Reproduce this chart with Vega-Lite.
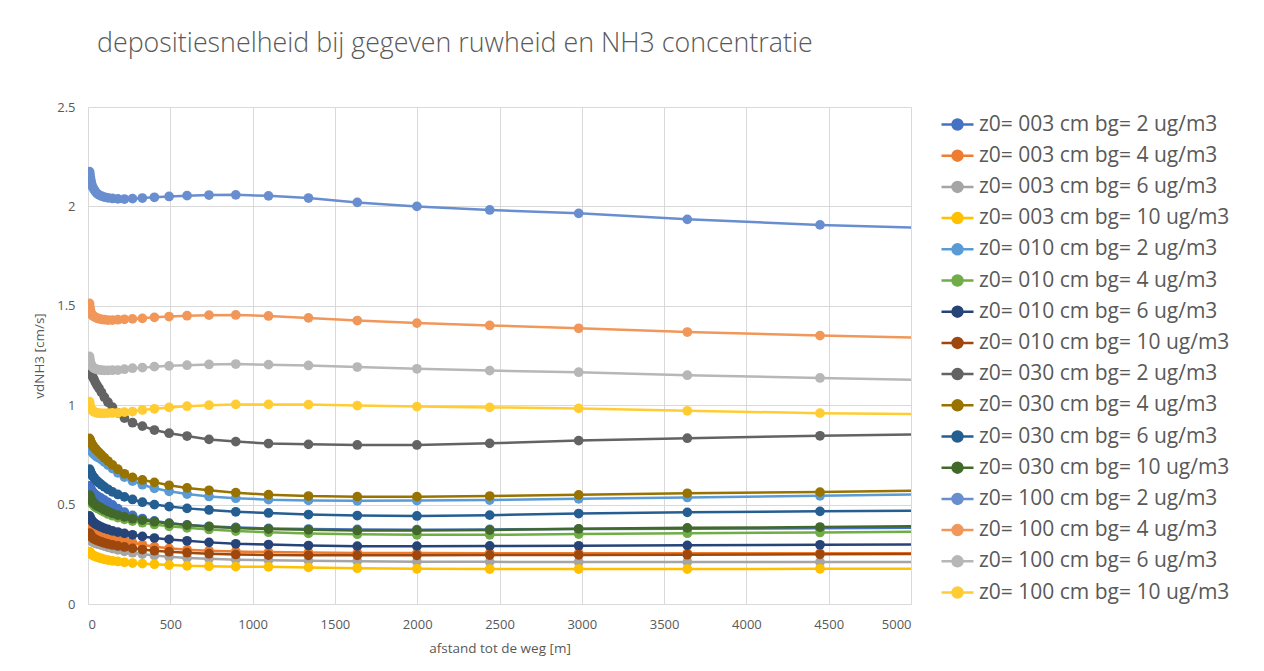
{
"$schema": "https://vega.github.io/schema/vega-lite/v6.json",
"width": 823, "height": 497,
"autosize": {"type": "none"},
"padding": {"left": 88, "top": 107, "right": 353, "bottom": 67},
"background": "white",
"title": {"text": "depositiesnelheid bij gegeven ruwheid en NH3 concentratie", "anchor": "start", "frame": "group", "font": "Open Sans", "fontSize": 26.8, "fontWeight": 300, "color": "#595959", "dx": 9, "offset": 43},
"config": {"view": {"stroke": null}},
"datasets": {
"s1": [{"serie":"z0= 003 cm bg= 2 ug/m3","afstand":9,"vd":0.594},{"serie":"z0= 003 cm bg= 2 ug/m3","afstand":11,"vd":0.589},{"serie":"z0= 003 cm bg= 2 ug/m3","afstand":13.5,"vd":0.584},{"serie":"z0= 003 cm bg= 2 ug/m3","afstand":16.4,"vd":0.579},{"serie":"z0= 003 cm bg= 2 ug/m3","afstand":20.1,"vd":0.574},{"serie":"z0= 003 cm bg= 2 ug/m3","afstand":24.5,"vd":0.568},{"serie":"z0= 003 cm bg= 2 ug/m3","afstand":30,"vd":0.562},{"serie":"z0= 003 cm bg= 2 ug/m3","afstand":36.6,"vd":0.556},{"serie":"z0= 003 cm bg= 2 ug/m3","afstand":44.7,"vd":0.55},{"serie":"z0= 003 cm bg= 2 ug/m3","afstand":54.6,"vd":0.544},{"serie":"z0= 003 cm bg= 2 ug/m3","afstand":66.7,"vd":0.538},{"serie":"z0= 003 cm bg= 2 ug/m3","afstand":81.5,"vd":0.531},{"serie":"z0= 003 cm bg= 2 ug/m3","afstand":99.5,"vd":0.522},{"serie":"z0= 003 cm bg= 2 ug/m3","afstand":121.5,"vd":0.511},{"serie":"z0= 003 cm bg= 2 ug/m3","afstand":148.4,"vd":0.498},{"serie":"z0= 003 cm bg= 2 ug/m3","afstand":181.3,"vd":0.48},{"serie":"z0= 003 cm bg= 2 ug/m3","afstand":221.4,"vd":0.462},{"serie":"z0= 003 cm bg= 2 ug/m3","afstand":270.4,"vd":0.446},{"serie":"z0= 003 cm bg= 2 ug/m3","afstand":330.3,"vd":0.43},{"serie":"z0= 003 cm bg= 2 ug/m3","afstand":403.4,"vd":0.418},{"serie":"z0= 003 cm bg= 2 ug/m3","afstand":492.7,"vd":0.407},{"serie":"z0= 003 cm bg= 2 ug/m3","afstand":601.8,"vd":0.398},{"serie":"z0= 003 cm bg= 2 ug/m3","afstand":735.1,"vd":0.391},{"serie":"z0= 003 cm bg= 2 ug/m3","afstand":897.8,"vd":0.385},{"serie":"z0= 003 cm bg= 2 ug/m3","afstand":1096.6,"vd":0.38},{"serie":"z0= 003 cm bg= 2 ug/m3","afstand":1339.4,"vd":0.377},{"serie":"z0= 003 cm bg= 2 ug/m3","afstand":1636,"vd":0.375},{"serie":"z0= 003 cm bg= 2 ug/m3","afstand":1998.2,"vd":0.374},{"serie":"z0= 003 cm bg= 2 ug/m3","afstand":2440.6,"vd":0.375},{"serie":"z0= 003 cm bg= 2 ug/m3","afstand":2981,"vd":0.377},{"serie":"z0= 003 cm bg= 2 ug/m3","afstand":3641,"vd":0.379},{"serie":"z0= 003 cm bg= 2 ug/m3","afstand":4447.1,"vd":0.381},{"serie":"z0= 003 cm bg= 2 ug/m3","afstand":5431.7,"vd":0.385},
{"serie":"z0= 003 cm bg= 4 ug/m3","afstand":9,"vd":0.406},{"serie":"z0= 003 cm bg= 4 ug/m3","afstand":11,"vd":0.402},{"serie":"z0= 003 cm bg= 4 ug/m3","afstand":13.5,"vd":0.398},{"serie":"z0= 003 cm bg= 4 ug/m3","afstand":16.4,"vd":0.394},{"serie":"z0= 003 cm bg= 4 ug/m3","afstand":20.1,"vd":0.39},{"serie":"z0= 003 cm bg= 4 ug/m3","afstand":24.5,"vd":0.386},{"serie":"z0= 003 cm bg= 4 ug/m3","afstand":30,"vd":0.381},{"serie":"z0= 003 cm bg= 4 ug/m3","afstand":36.6,"vd":0.376},{"serie":"z0= 003 cm bg= 4 ug/m3","afstand":44.7,"vd":0.372},{"serie":"z0= 003 cm bg= 4 ug/m3","afstand":54.6,"vd":0.368},{"serie":"z0= 003 cm bg= 4 ug/m3","afstand":66.7,"vd":0.364},{"serie":"z0= 003 cm bg= 4 ug/m3","afstand":81.5,"vd":0.359},{"serie":"z0= 003 cm bg= 4 ug/m3","afstand":99.5,"vd":0.353},{"serie":"z0= 003 cm bg= 4 ug/m3","afstand":121.5,"vd":0.346},{"serie":"z0= 003 cm bg= 4 ug/m3","afstand":148.4,"vd":0.338},{"serie":"z0= 003 cm bg= 4 ug/m3","afstand":181.3,"vd":0.329},{"serie":"z0= 003 cm bg= 4 ug/m3","afstand":221.4,"vd":0.32},{"serie":"z0= 003 cm bg= 4 ug/m3","afstand":270.4,"vd":0.309},{"serie":"z0= 003 cm bg= 4 ug/m3","afstand":330.3,"vd":0.298},{"serie":"z0= 003 cm bg= 4 ug/m3","afstand":403.4,"vd":0.288},{"serie":"z0= 003 cm bg= 4 ug/m3","afstand":492.7,"vd":0.28},{"serie":"z0= 003 cm bg= 4 ug/m3","afstand":601.8,"vd":0.273},{"serie":"z0= 003 cm bg= 4 ug/m3","afstand":735.1,"vd":0.268},{"serie":"z0= 003 cm bg= 4 ug/m3","afstand":897.8,"vd":0.264},{"serie":"z0= 003 cm bg= 4 ug/m3","afstand":1096.6,"vd":0.261},{"serie":"z0= 003 cm bg= 4 ug/m3","afstand":1339.4,"vd":0.259},{"serie":"z0= 003 cm bg= 4 ug/m3","afstand":1636,"vd":0.257},{"serie":"z0= 003 cm bg= 4 ug/m3","afstand":1998.2,"vd":0.256},{"serie":"z0= 003 cm bg= 4 ug/m3","afstand":2440.6,"vd":0.255},{"serie":"z0= 003 cm bg= 4 ug/m3","afstand":2981,"vd":0.255},{"serie":"z0= 003 cm bg= 4 ug/m3","afstand":3641,"vd":0.255},{"serie":"z0= 003 cm bg= 4 ug/m3","afstand":4447.1,"vd":0.255},{"serie":"z0= 003 cm bg= 4 ug/m3","afstand":5431.7,"vd":0.256},
{"serie":"z0= 003 cm bg= 6 ug/m3","afstand":9,"vd":0.33},{"serie":"z0= 003 cm bg= 6 ug/m3","afstand":11,"vd":0.327},{"serie":"z0= 003 cm bg= 6 ug/m3","afstand":13.5,"vd":0.324},{"serie":"z0= 003 cm bg= 6 ug/m3","afstand":16.4,"vd":0.321},{"serie":"z0= 003 cm bg= 6 ug/m3","afstand":20.1,"vd":0.318},{"serie":"z0= 003 cm bg= 6 ug/m3","afstand":24.5,"vd":0.315},{"serie":"z0= 003 cm bg= 6 ug/m3","afstand":30,"vd":0.312},{"serie":"z0= 003 cm bg= 6 ug/m3","afstand":36.6,"vd":0.309},{"serie":"z0= 003 cm bg= 6 ug/m3","afstand":44.7,"vd":0.306},{"serie":"z0= 003 cm bg= 6 ug/m3","afstand":54.6,"vd":0.303},{"serie":"z0= 003 cm bg= 6 ug/m3","afstand":66.7,"vd":0.3},{"serie":"z0= 003 cm bg= 6 ug/m3","afstand":81.5,"vd":0.296},{"serie":"z0= 003 cm bg= 6 ug/m3","afstand":99.5,"vd":0.291},{"serie":"z0= 003 cm bg= 6 ug/m3","afstand":121.5,"vd":0.285},{"serie":"z0= 003 cm bg= 6 ug/m3","afstand":148.4,"vd":0.279},{"serie":"z0= 003 cm bg= 6 ug/m3","afstand":181.3,"vd":0.272},{"serie":"z0= 003 cm bg= 6 ug/m3","afstand":221.4,"vd":0.265},{"serie":"z0= 003 cm bg= 6 ug/m3","afstand":270.4,"vd":0.258},{"serie":"z0= 003 cm bg= 6 ug/m3","afstand":330.3,"vd":0.251},{"serie":"z0= 003 cm bg= 6 ug/m3","afstand":403.4,"vd":0.244},{"serie":"z0= 003 cm bg= 6 ug/m3","afstand":492.7,"vd":0.238},{"serie":"z0= 003 cm bg= 6 ug/m3","afstand":601.8,"vd":0.232},{"serie":"z0= 003 cm bg= 6 ug/m3","afstand":735.1,"vd":0.227},{"serie":"z0= 003 cm bg= 6 ug/m3","afstand":897.8,"vd":0.223},{"serie":"z0= 003 cm bg= 6 ug/m3","afstand":1096.6,"vd":0.22},{"serie":"z0= 003 cm bg= 6 ug/m3","afstand":1339.4,"vd":0.217},{"serie":"z0= 003 cm bg= 6 ug/m3","afstand":1636,"vd":0.215},{"serie":"z0= 003 cm bg= 6 ug/m3","afstand":1998.2,"vd":0.213},{"serie":"z0= 003 cm bg= 6 ug/m3","afstand":2440.6,"vd":0.212},{"serie":"z0= 003 cm bg= 6 ug/m3","afstand":2981,"vd":0.211},{"serie":"z0= 003 cm bg= 6 ug/m3","afstand":3641,"vd":0.211},{"serie":"z0= 003 cm bg= 6 ug/m3","afstand":4447.1,"vd":0.211},{"serie":"z0= 003 cm bg= 6 ug/m3","afstand":5431.7,"vd":0.211},
{"serie":"z0= 003 cm bg= 10 ug/m3","afstand":9,"vd":0.263},{"serie":"z0= 003 cm bg= 10 ug/m3","afstand":11,"vd":0.26},{"serie":"z0= 003 cm bg= 10 ug/m3","afstand":13.5,"vd":0.257},{"serie":"z0= 003 cm bg= 10 ug/m3","afstand":16.4,"vd":0.254},{"serie":"z0= 003 cm bg= 10 ug/m3","afstand":20.1,"vd":0.251},{"serie":"z0= 003 cm bg= 10 ug/m3","afstand":24.5,"vd":0.248},{"serie":"z0= 003 cm bg= 10 ug/m3","afstand":30,"vd":0.245},{"serie":"z0= 003 cm bg= 10 ug/m3","afstand":36.6,"vd":0.242},{"serie":"z0= 003 cm bg= 10 ug/m3","afstand":44.7,"vd":0.239},{"serie":"z0= 003 cm bg= 10 ug/m3","afstand":54.6,"vd":0.236},{"serie":"z0= 003 cm bg= 10 ug/m3","afstand":66.7,"vd":0.233},{"serie":"z0= 003 cm bg= 10 ug/m3","afstand":81.5,"vd":0.229},{"serie":"z0= 003 cm bg= 10 ug/m3","afstand":99.5,"vd":0.225},{"serie":"z0= 003 cm bg= 10 ug/m3","afstand":121.5,"vd":0.221},{"serie":"z0= 003 cm bg= 10 ug/m3","afstand":148.4,"vd":0.217},{"serie":"z0= 003 cm bg= 10 ug/m3","afstand":181.3,"vd":0.214},{"serie":"z0= 003 cm bg= 10 ug/m3","afstand":221.4,"vd":0.21},{"serie":"z0= 003 cm bg= 10 ug/m3","afstand":270.4,"vd":0.206},{"serie":"z0= 003 cm bg= 10 ug/m3","afstand":330.3,"vd":0.203},{"serie":"z0= 003 cm bg= 10 ug/m3","afstand":403.4,"vd":0.2},{"serie":"z0= 003 cm bg= 10 ug/m3","afstand":492.7,"vd":0.196},{"serie":"z0= 003 cm bg= 10 ug/m3","afstand":601.8,"vd":0.192},{"serie":"z0= 003 cm bg= 10 ug/m3","afstand":735.1,"vd":0.19},{"serie":"z0= 003 cm bg= 10 ug/m3","afstand":897.8,"vd":0.188},{"serie":"z0= 003 cm bg= 10 ug/m3","afstand":1096.6,"vd":0.187},{"serie":"z0= 003 cm bg= 10 ug/m3","afstand":1339.4,"vd":0.184},{"serie":"z0= 003 cm bg= 10 ug/m3","afstand":1636,"vd":0.18},{"serie":"z0= 003 cm bg= 10 ug/m3","afstand":1998.2,"vd":0.177},{"serie":"z0= 003 cm bg= 10 ug/m3","afstand":2440.6,"vd":0.176},{"serie":"z0= 003 cm bg= 10 ug/m3","afstand":2981,"vd":0.176},{"serie":"z0= 003 cm bg= 10 ug/m3","afstand":3641,"vd":0.176},{"serie":"z0= 003 cm bg= 10 ug/m3","afstand":4447.1,"vd":0.177},{"serie":"z0= 003 cm bg= 10 ug/m3","afstand":5431.7,"vd":0.178},
{"serie":"z0= 010 cm bg= 2 ug/m3","afstand":9,"vd":0.791},{"serie":"z0= 010 cm bg= 2 ug/m3","afstand":11,"vd":0.786},{"serie":"z0= 010 cm bg= 2 ug/m3","afstand":13.5,"vd":0.781},{"serie":"z0= 010 cm bg= 2 ug/m3","afstand":16.4,"vd":0.776},{"serie":"z0= 010 cm bg= 2 ug/m3","afstand":20.1,"vd":0.771},{"serie":"z0= 010 cm bg= 2 ug/m3","afstand":24.5,"vd":0.765},{"serie":"z0= 010 cm bg= 2 ug/m3","afstand":30,"vd":0.759},{"serie":"z0= 010 cm bg= 2 ug/m3","afstand":36.6,"vd":0.753},{"serie":"z0= 010 cm bg= 2 ug/m3","afstand":44.7,"vd":0.747},{"serie":"z0= 010 cm bg= 2 ug/m3","afstand":54.6,"vd":0.741},{"serie":"z0= 010 cm bg= 2 ug/m3","afstand":66.7,"vd":0.735},{"serie":"z0= 010 cm bg= 2 ug/m3","afstand":81.5,"vd":0.726},{"serie":"z0= 010 cm bg= 2 ug/m3","afstand":99.5,"vd":0.714},{"serie":"z0= 010 cm bg= 2 ug/m3","afstand":121.5,"vd":0.699},{"serie":"z0= 010 cm bg= 2 ug/m3","afstand":148.4,"vd":0.681},{"serie":"z0= 010 cm bg= 2 ug/m3","afstand":181.3,"vd":0.66},{"serie":"z0= 010 cm bg= 2 ug/m3","afstand":221.4,"vd":0.638},{"serie":"z0= 010 cm bg= 2 ug/m3","afstand":270.4,"vd":0.618},{"serie":"z0= 010 cm bg= 2 ug/m3","afstand":330.3,"vd":0.6},{"serie":"z0= 010 cm bg= 2 ug/m3","afstand":403.4,"vd":0.582},{"serie":"z0= 010 cm bg= 2 ug/m3","afstand":492.7,"vd":0.567},{"serie":"z0= 010 cm bg= 2 ug/m3","afstand":601.8,"vd":0.553},{"serie":"z0= 010 cm bg= 2 ug/m3","afstand":735.1,"vd":0.541},{"serie":"z0= 010 cm bg= 2 ug/m3","afstand":897.8,"vd":0.532},{"serie":"z0= 010 cm bg= 2 ug/m3","afstand":1096.6,"vd":0.525},{"serie":"z0= 010 cm bg= 2 ug/m3","afstand":1339.4,"vd":0.521},{"serie":"z0= 010 cm bg= 2 ug/m3","afstand":1636,"vd":0.519},{"serie":"z0= 010 cm bg= 2 ug/m3","afstand":1998.2,"vd":0.52},{"serie":"z0= 010 cm bg= 2 ug/m3","afstand":2440.6,"vd":0.523},{"serie":"z0= 010 cm bg= 2 ug/m3","afstand":2981,"vd":0.529},{"serie":"z0= 010 cm bg= 2 ug/m3","afstand":3641,"vd":0.536},{"serie":"z0= 010 cm bg= 2 ug/m3","afstand":4447.1,"vd":0.544},{"serie":"z0= 010 cm bg= 2 ug/m3","afstand":5431.7,"vd":0.556},
{"serie":"z0= 010 cm bg= 4 ug/m3","afstand":9,"vd":0.535},{"serie":"z0= 010 cm bg= 4 ug/m3","afstand":11,"vd":0.53},{"serie":"z0= 010 cm bg= 4 ug/m3","afstand":13.5,"vd":0.524},{"serie":"z0= 010 cm bg= 4 ug/m3","afstand":16.4,"vd":0.518},{"serie":"z0= 010 cm bg= 4 ug/m3","afstand":20.1,"vd":0.512},{"serie":"z0= 010 cm bg= 4 ug/m3","afstand":24.5,"vd":0.506},{"serie":"z0= 010 cm bg= 4 ug/m3","afstand":30,"vd":0.5},{"serie":"z0= 010 cm bg= 4 ug/m3","afstand":36.6,"vd":0.494},{"serie":"z0= 010 cm bg= 4 ug/m3","afstand":44.7,"vd":0.488},{"serie":"z0= 010 cm bg= 4 ug/m3","afstand":54.6,"vd":0.482},{"serie":"z0= 010 cm bg= 4 ug/m3","afstand":66.7,"vd":0.477},{"serie":"z0= 010 cm bg= 4 ug/m3","afstand":81.5,"vd":0.47},{"serie":"z0= 010 cm bg= 4 ug/m3","afstand":99.5,"vd":0.462},{"serie":"z0= 010 cm bg= 4 ug/m3","afstand":121.5,"vd":0.453},{"serie":"z0= 010 cm bg= 4 ug/m3","afstand":148.4,"vd":0.444},{"serie":"z0= 010 cm bg= 4 ug/m3","afstand":181.3,"vd":0.435},{"serie":"z0= 010 cm bg= 4 ug/m3","afstand":221.4,"vd":0.426},{"serie":"z0= 010 cm bg= 4 ug/m3","afstand":270.4,"vd":0.417},{"serie":"z0= 010 cm bg= 4 ug/m3","afstand":330.3,"vd":0.409},{"serie":"z0= 010 cm bg= 4 ug/m3","afstand":403.4,"vd":0.4},{"serie":"z0= 010 cm bg= 4 ug/m3","afstand":492.7,"vd":0.391},{"serie":"z0= 010 cm bg= 4 ug/m3","afstand":601.8,"vd":0.383},{"serie":"z0= 010 cm bg= 4 ug/m3","afstand":735.1,"vd":0.375},{"serie":"z0= 010 cm bg= 4 ug/m3","afstand":897.8,"vd":0.367},{"serie":"z0= 010 cm bg= 4 ug/m3","afstand":1096.6,"vd":0.361},{"serie":"z0= 010 cm bg= 4 ug/m3","afstand":1339.4,"vd":0.355},{"serie":"z0= 010 cm bg= 4 ug/m3","afstand":1636,"vd":0.351},{"serie":"z0= 010 cm bg= 4 ug/m3","afstand":1998.2,"vd":0.348},{"serie":"z0= 010 cm bg= 4 ug/m3","afstand":2440.6,"vd":0.348},{"serie":"z0= 010 cm bg= 4 ug/m3","afstand":2981,"vd":0.352},{"serie":"z0= 010 cm bg= 4 ug/m3","afstand":3641,"vd":0.356},{"serie":"z0= 010 cm bg= 4 ug/m3","afstand":4447.1,"vd":0.36},{"serie":"z0= 010 cm bg= 4 ug/m3","afstand":5431.7,"vd":0.366},
{"serie":"z0= 010 cm bg= 6 ug/m3","afstand":9,"vd":0.443},{"serie":"z0= 010 cm bg= 6 ug/m3","afstand":11,"vd":0.438},{"serie":"z0= 010 cm bg= 6 ug/m3","afstand":13.5,"vd":0.433},{"serie":"z0= 010 cm bg= 6 ug/m3","afstand":16.4,"vd":0.428},{"serie":"z0= 010 cm bg= 6 ug/m3","afstand":20.1,"vd":0.423},{"serie":"z0= 010 cm bg= 6 ug/m3","afstand":24.5,"vd":0.418},{"serie":"z0= 010 cm bg= 6 ug/m3","afstand":30,"vd":0.413},{"serie":"z0= 010 cm bg= 6 ug/m3","afstand":36.6,"vd":0.408},{"serie":"z0= 010 cm bg= 6 ug/m3","afstand":44.7,"vd":0.403},{"serie":"z0= 010 cm bg= 6 ug/m3","afstand":54.6,"vd":0.398},{"serie":"z0= 010 cm bg= 6 ug/m3","afstand":66.7,"vd":0.393},{"serie":"z0= 010 cm bg= 6 ug/m3","afstand":81.5,"vd":0.387},{"serie":"z0= 010 cm bg= 6 ug/m3","afstand":99.5,"vd":0.381},{"serie":"z0= 010 cm bg= 6 ug/m3","afstand":121.5,"vd":0.375},{"serie":"z0= 010 cm bg= 6 ug/m3","afstand":148.4,"vd":0.368},{"serie":"z0= 010 cm bg= 6 ug/m3","afstand":181.3,"vd":0.362},{"serie":"z0= 010 cm bg= 6 ug/m3","afstand":221.4,"vd":0.355},{"serie":"z0= 010 cm bg= 6 ug/m3","afstand":270.4,"vd":0.348},{"serie":"z0= 010 cm bg= 6 ug/m3","afstand":330.3,"vd":0.34},{"serie":"z0= 010 cm bg= 6 ug/m3","afstand":403.4,"vd":0.332},{"serie":"z0= 010 cm bg= 6 ug/m3","afstand":492.7,"vd":0.325},{"serie":"z0= 010 cm bg= 6 ug/m3","afstand":601.8,"vd":0.318},{"serie":"z0= 010 cm bg= 6 ug/m3","afstand":735.1,"vd":0.31},{"serie":"z0= 010 cm bg= 6 ug/m3","afstand":897.8,"vd":0.303},{"serie":"z0= 010 cm bg= 6 ug/m3","afstand":1096.6,"vd":0.299},{"serie":"z0= 010 cm bg= 6 ug/m3","afstand":1339.4,"vd":0.294},{"serie":"z0= 010 cm bg= 6 ug/m3","afstand":1636,"vd":0.291},{"serie":"z0= 010 cm bg= 6 ug/m3","afstand":1998.2,"vd":0.291},{"serie":"z0= 010 cm bg= 6 ug/m3","afstand":2440.6,"vd":0.292},{"serie":"z0= 010 cm bg= 6 ug/m3","afstand":2981,"vd":0.293},{"serie":"z0= 010 cm bg= 6 ug/m3","afstand":3641,"vd":0.295},{"serie":"z0= 010 cm bg= 6 ug/m3","afstand":4447.1,"vd":0.298},{"serie":"z0= 010 cm bg= 6 ug/m3","afstand":5431.7,"vd":0.301},
{"serie":"z0= 010 cm bg= 10 ug/m3","afstand":9,"vd":0.356},{"serie":"z0= 010 cm bg= 10 ug/m3","afstand":11,"vd":0.352},{"serie":"z0= 010 cm bg= 10 ug/m3","afstand":13.5,"vd":0.348},{"serie":"z0= 010 cm bg= 10 ug/m3","afstand":16.4,"vd":0.344},{"serie":"z0= 010 cm bg= 10 ug/m3","afstand":20.1,"vd":0.34},{"serie":"z0= 010 cm bg= 10 ug/m3","afstand":24.5,"vd":0.336},{"serie":"z0= 010 cm bg= 10 ug/m3","afstand":30,"vd":0.332},{"serie":"z0= 010 cm bg= 10 ug/m3","afstand":36.6,"vd":0.328},{"serie":"z0= 010 cm bg= 10 ug/m3","afstand":44.7,"vd":0.324},{"serie":"z0= 010 cm bg= 10 ug/m3","afstand":54.6,"vd":0.32},{"serie":"z0= 010 cm bg= 10 ug/m3","afstand":66.7,"vd":0.316},{"serie":"z0= 010 cm bg= 10 ug/m3","afstand":81.5,"vd":0.312},{"serie":"z0= 010 cm bg= 10 ug/m3","afstand":99.5,"vd":0.307},{"serie":"z0= 010 cm bg= 10 ug/m3","afstand":121.5,"vd":0.302},{"serie":"z0= 010 cm bg= 10 ug/m3","afstand":148.4,"vd":0.297},{"serie":"z0= 010 cm bg= 10 ug/m3","afstand":181.3,"vd":0.292},{"serie":"z0= 010 cm bg= 10 ug/m3","afstand":221.4,"vd":0.287},{"serie":"z0= 010 cm bg= 10 ug/m3","afstand":270.4,"vd":0.28},{"serie":"z0= 010 cm bg= 10 ug/m3","afstand":330.3,"vd":0.274},{"serie":"z0= 010 cm bg= 10 ug/m3","afstand":403.4,"vd":0.268},{"serie":"z0= 010 cm bg= 10 ug/m3","afstand":492.7,"vd":0.263},{"serie":"z0= 010 cm bg= 10 ug/m3","afstand":601.8,"vd":0.258},{"serie":"z0= 010 cm bg= 10 ug/m3","afstand":735.1,"vd":0.253},{"serie":"z0= 010 cm bg= 10 ug/m3","afstand":897.8,"vd":0.249},{"serie":"z0= 010 cm bg= 10 ug/m3","afstand":1096.6,"vd":0.246},{"serie":"z0= 010 cm bg= 10 ug/m3","afstand":1339.4,"vd":0.245},{"serie":"z0= 010 cm bg= 10 ug/m3","afstand":1636,"vd":0.245},{"serie":"z0= 010 cm bg= 10 ug/m3","afstand":1998.2,"vd":0.245},{"serie":"z0= 010 cm bg= 10 ug/m3","afstand":2440.6,"vd":0.246},{"serie":"z0= 010 cm bg= 10 ug/m3","afstand":2981,"vd":0.247},{"serie":"z0= 010 cm bg= 10 ug/m3","afstand":3641,"vd":0.248},{"serie":"z0= 010 cm bg= 10 ug/m3","afstand":4447.1,"vd":0.25},{"serie":"z0= 010 cm bg= 10 ug/m3","afstand":5431.7,"vd":0.253},
{"serie":"z0= 030 cm bg= 2 ug/m3","afstand":9,"vd":1.19},{"serie":"z0= 030 cm bg= 2 ug/m3","afstand":11,"vd":1.185},{"serie":"z0= 030 cm bg= 2 ug/m3","afstand":13.5,"vd":1.178},{"serie":"z0= 030 cm bg= 2 ug/m3","afstand":16.4,"vd":1.17},{"serie":"z0= 030 cm bg= 2 ug/m3","afstand":20.1,"vd":1.16},{"serie":"z0= 030 cm bg= 2 ug/m3","afstand":24.5,"vd":1.15},{"serie":"z0= 030 cm bg= 2 ug/m3","afstand":30,"vd":1.14},{"serie":"z0= 030 cm bg= 2 ug/m3","afstand":36.6,"vd":1.13},{"serie":"z0= 030 cm bg= 2 ug/m3","afstand":44.7,"vd":1.115},{"serie":"z0= 030 cm bg= 2 ug/m3","afstand":54.6,"vd":1.1},{"serie":"z0= 030 cm bg= 2 ug/m3","afstand":66.7,"vd":1.085},{"serie":"z0= 030 cm bg= 2 ug/m3","afstand":81.5,"vd":1.065},{"serie":"z0= 030 cm bg= 2 ug/m3","afstand":99.5,"vd":1.04},{"serie":"z0= 030 cm bg= 2 ug/m3","afstand":121.5,"vd":1.015},{"serie":"z0= 030 cm bg= 2 ug/m3","afstand":148.4,"vd":0.99},{"serie":"z0= 030 cm bg= 2 ug/m3","afstand":181.3,"vd":0.962},{"serie":"z0= 030 cm bg= 2 ug/m3","afstand":221.4,"vd":0.935},{"serie":"z0= 030 cm bg= 2 ug/m3","afstand":270.4,"vd":0.912},{"serie":"z0= 030 cm bg= 2 ug/m3","afstand":330.3,"vd":0.895},{"serie":"z0= 030 cm bg= 2 ug/m3","afstand":403.4,"vd":0.875},{"serie":"z0= 030 cm bg= 2 ug/m3","afstand":492.7,"vd":0.859},{"serie":"z0= 030 cm bg= 2 ug/m3","afstand":601.8,"vd":0.845},{"serie":"z0= 030 cm bg= 2 ug/m3","afstand":735.1,"vd":0.828},{"serie":"z0= 030 cm bg= 2 ug/m3","afstand":897.8,"vd":0.817},{"serie":"z0= 030 cm bg= 2 ug/m3","afstand":1096.6,"vd":0.807},{"serie":"z0= 030 cm bg= 2 ug/m3","afstand":1339.4,"vd":0.803},{"serie":"z0= 030 cm bg= 2 ug/m3","afstand":1636,"vd":0.8},{"serie":"z0= 030 cm bg= 2 ug/m3","afstand":1998.2,"vd":0.8},{"serie":"z0= 030 cm bg= 2 ug/m3","afstand":2440.6,"vd":0.808},{"serie":"z0= 030 cm bg= 2 ug/m3","afstand":2981,"vd":0.822},{"serie":"z0= 030 cm bg= 2 ug/m3","afstand":3641,"vd":0.834},{"serie":"z0= 030 cm bg= 2 ug/m3","afstand":4447.1,"vd":0.846},{"serie":"z0= 030 cm bg= 2 ug/m3","afstand":5431.7,"vd":0.857},
{"serie":"z0= 030 cm bg= 4 ug/m3","afstand":9,"vd":0.833},{"serie":"z0= 030 cm bg= 4 ug/m3","afstand":11,"vd":0.828},{"serie":"z0= 030 cm bg= 4 ug/m3","afstand":13.5,"vd":0.822},{"serie":"z0= 030 cm bg= 4 ug/m3","afstand":16.4,"vd":0.816},{"serie":"z0= 030 cm bg= 4 ug/m3","afstand":20.1,"vd":0.81},{"serie":"z0= 030 cm bg= 4 ug/m3","afstand":24.5,"vd":0.803},{"serie":"z0= 030 cm bg= 4 ug/m3","afstand":30,"vd":0.796},{"serie":"z0= 030 cm bg= 4 ug/m3","afstand":36.6,"vd":0.789},{"serie":"z0= 030 cm bg= 4 ug/m3","afstand":44.7,"vd":0.781},{"serie":"z0= 030 cm bg= 4 ug/m3","afstand":54.6,"vd":0.772},{"serie":"z0= 030 cm bg= 4 ug/m3","afstand":66.7,"vd":0.762},{"serie":"z0= 030 cm bg= 4 ug/m3","afstand":81.5,"vd":0.75},{"serie":"z0= 030 cm bg= 4 ug/m3","afstand":99.5,"vd":0.736},{"serie":"z0= 030 cm bg= 4 ug/m3","afstand":121.5,"vd":0.719},{"serie":"z0= 030 cm bg= 4 ug/m3","afstand":148.4,"vd":0.7},{"serie":"z0= 030 cm bg= 4 ug/m3","afstand":181.3,"vd":0.678},{"serie":"z0= 030 cm bg= 4 ug/m3","afstand":221.4,"vd":0.655},{"serie":"z0= 030 cm bg= 4 ug/m3","afstand":270.4,"vd":0.637},{"serie":"z0= 030 cm bg= 4 ug/m3","afstand":330.3,"vd":0.624},{"serie":"z0= 030 cm bg= 4 ug/m3","afstand":403.4,"vd":0.612},{"serie":"z0= 030 cm bg= 4 ug/m3","afstand":492.7,"vd":0.597},{"serie":"z0= 030 cm bg= 4 ug/m3","afstand":601.8,"vd":0.584},{"serie":"z0= 030 cm bg= 4 ug/m3","afstand":735.1,"vd":0.572},{"serie":"z0= 030 cm bg= 4 ug/m3","afstand":897.8,"vd":0.56},{"serie":"z0= 030 cm bg= 4 ug/m3","afstand":1096.6,"vd":0.55},{"serie":"z0= 030 cm bg= 4 ug/m3","afstand":1339.4,"vd":0.543},{"serie":"z0= 030 cm bg= 4 ug/m3","afstand":1636,"vd":0.54},{"serie":"z0= 030 cm bg= 4 ug/m3","afstand":1998.2,"vd":0.54},{"serie":"z0= 030 cm bg= 4 ug/m3","afstand":2440.6,"vd":0.543},{"serie":"z0= 030 cm bg= 4 ug/m3","afstand":2981,"vd":0.549},{"serie":"z0= 030 cm bg= 4 ug/m3","afstand":3641,"vd":0.557},{"serie":"z0= 030 cm bg= 4 ug/m3","afstand":4447.1,"vd":0.563},{"serie":"z0= 030 cm bg= 4 ug/m3","afstand":5431.7,"vd":0.574},
{"serie":"z0= 030 cm bg= 6 ug/m3","afstand":9,"vd":0.678},{"serie":"z0= 030 cm bg= 6 ug/m3","afstand":11,"vd":0.673},{"serie":"z0= 030 cm bg= 6 ug/m3","afstand":13.5,"vd":0.667},{"serie":"z0= 030 cm bg= 6 ug/m3","afstand":16.4,"vd":0.661},{"serie":"z0= 030 cm bg= 6 ug/m3","afstand":20.1,"vd":0.655},{"serie":"z0= 030 cm bg= 6 ug/m3","afstand":24.5,"vd":0.649},{"serie":"z0= 030 cm bg= 6 ug/m3","afstand":30,"vd":0.642},{"serie":"z0= 030 cm bg= 6 ug/m3","afstand":36.6,"vd":0.635},{"serie":"z0= 030 cm bg= 6 ug/m3","afstand":44.7,"vd":0.627},{"serie":"z0= 030 cm bg= 6 ug/m3","afstand":54.6,"vd":0.619},{"serie":"z0= 030 cm bg= 6 ug/m3","afstand":66.7,"vd":0.61},{"serie":"z0= 030 cm bg= 6 ug/m3","afstand":81.5,"vd":0.6},{"serie":"z0= 030 cm bg= 6 ug/m3","afstand":99.5,"vd":0.589},{"serie":"z0= 030 cm bg= 6 ug/m3","afstand":121.5,"vd":0.577},{"serie":"z0= 030 cm bg= 6 ug/m3","afstand":148.4,"vd":0.564},{"serie":"z0= 030 cm bg= 6 ug/m3","afstand":181.3,"vd":0.551},{"serie":"z0= 030 cm bg= 6 ug/m3","afstand":221.4,"vd":0.539},{"serie":"z0= 030 cm bg= 6 ug/m3","afstand":270.4,"vd":0.526},{"serie":"z0= 030 cm bg= 6 ug/m3","afstand":330.3,"vd":0.512},{"serie":"z0= 030 cm bg= 6 ug/m3","afstand":403.4,"vd":0.5},{"serie":"z0= 030 cm bg= 6 ug/m3","afstand":492.7,"vd":0.49},{"serie":"z0= 030 cm bg= 6 ug/m3","afstand":601.8,"vd":0.481},{"serie":"z0= 030 cm bg= 6 ug/m3","afstand":735.1,"vd":0.473},{"serie":"z0= 030 cm bg= 6 ug/m3","afstand":897.8,"vd":0.464},{"serie":"z0= 030 cm bg= 6 ug/m3","afstand":1096.6,"vd":0.458},{"serie":"z0= 030 cm bg= 6 ug/m3","afstand":1339.4,"vd":0.45},{"serie":"z0= 030 cm bg= 6 ug/m3","afstand":1636,"vd":0.445},{"serie":"z0= 030 cm bg= 6 ug/m3","afstand":1998.2,"vd":0.443},{"serie":"z0= 030 cm bg= 6 ug/m3","afstand":2440.6,"vd":0.447},{"serie":"z0= 030 cm bg= 6 ug/m3","afstand":2981,"vd":0.455},{"serie":"z0= 030 cm bg= 6 ug/m3","afstand":3641,"vd":0.461},{"serie":"z0= 030 cm bg= 6 ug/m3","afstand":4447.1,"vd":0.466},{"serie":"z0= 030 cm bg= 6 ug/m3","afstand":5431.7,"vd":0.472},
{"serie":"z0= 030 cm bg= 10 ug/m3","afstand":9,"vd":0.548},{"serie":"z0= 030 cm bg= 10 ug/m3","afstand":11,"vd":0.542},{"serie":"z0= 030 cm bg= 10 ug/m3","afstand":13.5,"vd":0.536},{"serie":"z0= 030 cm bg= 10 ug/m3","afstand":16.4,"vd":0.53},{"serie":"z0= 030 cm bg= 10 ug/m3","afstand":20.1,"vd":0.524},{"serie":"z0= 030 cm bg= 10 ug/m3","afstand":24.5,"vd":0.518},{"serie":"z0= 030 cm bg= 10 ug/m3","afstand":30,"vd":0.512},{"serie":"z0= 030 cm bg= 10 ug/m3","afstand":36.6,"vd":0.506},{"serie":"z0= 030 cm bg= 10 ug/m3","afstand":44.7,"vd":0.5},{"serie":"z0= 030 cm bg= 10 ug/m3","afstand":54.6,"vd":0.494},{"serie":"z0= 030 cm bg= 10 ug/m3","afstand":66.7,"vd":0.489},{"serie":"z0= 030 cm bg= 10 ug/m3","afstand":81.5,"vd":0.482},{"serie":"z0= 030 cm bg= 10 ug/m3","afstand":99.5,"vd":0.474},{"serie":"z0= 030 cm bg= 10 ug/m3","afstand":121.5,"vd":0.465},{"serie":"z0= 030 cm bg= 10 ug/m3","afstand":148.4,"vd":0.456},{"serie":"z0= 030 cm bg= 10 ug/m3","afstand":181.3,"vd":0.447},{"serie":"z0= 030 cm bg= 10 ug/m3","afstand":221.4,"vd":0.438},{"serie":"z0= 030 cm bg= 10 ug/m3","afstand":270.4,"vd":0.429},{"serie":"z0= 030 cm bg= 10 ug/m3","afstand":330.3,"vd":0.422},{"serie":"z0= 030 cm bg= 10 ug/m3","afstand":403.4,"vd":0.414},{"serie":"z0= 030 cm bg= 10 ug/m3","afstand":492.7,"vd":0.405},{"serie":"z0= 030 cm bg= 10 ug/m3","afstand":601.8,"vd":0.397},{"serie":"z0= 030 cm bg= 10 ug/m3","afstand":735.1,"vd":0.389},{"serie":"z0= 030 cm bg= 10 ug/m3","afstand":897.8,"vd":0.382},{"serie":"z0= 030 cm bg= 10 ug/m3","afstand":1096.6,"vd":0.377},{"serie":"z0= 030 cm bg= 10 ug/m3","afstand":1339.4,"vd":0.373},{"serie":"z0= 030 cm bg= 10 ug/m3","afstand":1636,"vd":0.37},{"serie":"z0= 030 cm bg= 10 ug/m3","afstand":1998.2,"vd":0.37},{"serie":"z0= 030 cm bg= 10 ug/m3","afstand":2440.6,"vd":0.372},{"serie":"z0= 030 cm bg= 10 ug/m3","afstand":2981,"vd":0.378},{"serie":"z0= 030 cm bg= 10 ug/m3","afstand":3641,"vd":0.383},{"serie":"z0= 030 cm bg= 10 ug/m3","afstand":4447.1,"vd":0.387},{"serie":"z0= 030 cm bg= 10 ug/m3","afstand":5431.7,"vd":0.394},
{"serie":"z0= 100 cm bg= 2 ug/m3","afstand":9,"vd":2.175},{"serie":"z0= 100 cm bg= 2 ug/m3","afstand":11,"vd":2.165},{"serie":"z0= 100 cm bg= 2 ug/m3","afstand":13.5,"vd":2.15},{"serie":"z0= 100 cm bg= 2 ug/m3","afstand":16.4,"vd":2.135},{"serie":"z0= 100 cm bg= 2 ug/m3","afstand":20.1,"vd":2.12},{"serie":"z0= 100 cm bg= 2 ug/m3","afstand":24.5,"vd":2.105},{"serie":"z0= 100 cm bg= 2 ug/m3","afstand":30,"vd":2.095},{"serie":"z0= 100 cm bg= 2 ug/m3","afstand":36.6,"vd":2.085},{"serie":"z0= 100 cm bg= 2 ug/m3","afstand":44.7,"vd":2.075},{"serie":"z0= 100 cm bg= 2 ug/m3","afstand":54.6,"vd":2.065},{"serie":"z0= 100 cm bg= 2 ug/m3","afstand":66.7,"vd":2.058},{"serie":"z0= 100 cm bg= 2 ug/m3","afstand":81.5,"vd":2.052},{"serie":"z0= 100 cm bg= 2 ug/m3","afstand":99.5,"vd":2.047},{"serie":"z0= 100 cm bg= 2 ug/m3","afstand":121.5,"vd":2.043},{"serie":"z0= 100 cm bg= 2 ug/m3","afstand":148.4,"vd":2.04},{"serie":"z0= 100 cm bg= 2 ug/m3","afstand":181.3,"vd":2.038},{"serie":"z0= 100 cm bg= 2 ug/m3","afstand":221.4,"vd":2.037},{"serie":"z0= 100 cm bg= 2 ug/m3","afstand":270.4,"vd":2.039},{"serie":"z0= 100 cm bg= 2 ug/m3","afstand":330.3,"vd":2.042},{"serie":"z0= 100 cm bg= 2 ug/m3","afstand":403.4,"vd":2.046},{"serie":"z0= 100 cm bg= 2 ug/m3","afstand":492.7,"vd":2.05},{"serie":"z0= 100 cm bg= 2 ug/m3","afstand":601.8,"vd":2.054},{"serie":"z0= 100 cm bg= 2 ug/m3","afstand":735.1,"vd":2.057},{"serie":"z0= 100 cm bg= 2 ug/m3","afstand":897.8,"vd":2.058},{"serie":"z0= 100 cm bg= 2 ug/m3","afstand":1096.6,"vd":2.053},{"serie":"z0= 100 cm bg= 2 ug/m3","afstand":1339.4,"vd":2.042},{"serie":"z0= 100 cm bg= 2 ug/m3","afstand":1636,"vd":2.02},{"serie":"z0= 100 cm bg= 2 ug/m3","afstand":1998.2,"vd":2.0},{"serie":"z0= 100 cm bg= 2 ug/m3","afstand":2440.6,"vd":1.982},{"serie":"z0= 100 cm bg= 2 ug/m3","afstand":2981,"vd":1.965},{"serie":"z0= 100 cm bg= 2 ug/m3","afstand":3641,"vd":1.935},{"serie":"z0= 100 cm bg= 2 ug/m3","afstand":4447.1,"vd":1.907},{"serie":"z0= 100 cm bg= 2 ug/m3","afstand":5431.7,"vd":1.883},
{"serie":"z0= 100 cm bg= 4 ug/m3","afstand":9,"vd":1.512},{"serie":"z0= 100 cm bg= 4 ug/m3","afstand":11,"vd":1.495},{"serie":"z0= 100 cm bg= 4 ug/m3","afstand":13.5,"vd":1.48},{"serie":"z0= 100 cm bg= 4 ug/m3","afstand":16.4,"vd":1.47},{"serie":"z0= 100 cm bg= 4 ug/m3","afstand":20.1,"vd":1.462},{"serie":"z0= 100 cm bg= 4 ug/m3","afstand":24.5,"vd":1.455},{"serie":"z0= 100 cm bg= 4 ug/m3","afstand":30,"vd":1.45},{"serie":"z0= 100 cm bg= 4 ug/m3","afstand":36.6,"vd":1.446},{"serie":"z0= 100 cm bg= 4 ug/m3","afstand":44.7,"vd":1.442},{"serie":"z0= 100 cm bg= 4 ug/m3","afstand":54.6,"vd":1.438},{"serie":"z0= 100 cm bg= 4 ug/m3","afstand":66.7,"vd":1.435},{"serie":"z0= 100 cm bg= 4 ug/m3","afstand":81.5,"vd":1.432},{"serie":"z0= 100 cm bg= 4 ug/m3","afstand":99.5,"vd":1.43},{"serie":"z0= 100 cm bg= 4 ug/m3","afstand":121.5,"vd":1.428},{"serie":"z0= 100 cm bg= 4 ug/m3","afstand":148.4,"vd":1.428},{"serie":"z0= 100 cm bg= 4 ug/m3","afstand":181.3,"vd":1.43},{"serie":"z0= 100 cm bg= 4 ug/m3","afstand":221.4,"vd":1.432},{"serie":"z0= 100 cm bg= 4 ug/m3","afstand":270.4,"vd":1.434},{"serie":"z0= 100 cm bg= 4 ug/m3","afstand":330.3,"vd":1.437},{"serie":"z0= 100 cm bg= 4 ug/m3","afstand":403.4,"vd":1.442},{"serie":"z0= 100 cm bg= 4 ug/m3","afstand":492.7,"vd":1.446},{"serie":"z0= 100 cm bg= 4 ug/m3","afstand":601.8,"vd":1.45},{"serie":"z0= 100 cm bg= 4 ug/m3","afstand":735.1,"vd":1.453},{"serie":"z0= 100 cm bg= 4 ug/m3","afstand":897.8,"vd":1.454},{"serie":"z0= 100 cm bg= 4 ug/m3","afstand":1096.6,"vd":1.449},{"serie":"z0= 100 cm bg= 4 ug/m3","afstand":1339.4,"vd":1.439},{"serie":"z0= 100 cm bg= 4 ug/m3","afstand":1636,"vd":1.426},{"serie":"z0= 100 cm bg= 4 ug/m3","afstand":1998.2,"vd":1.413},{"serie":"z0= 100 cm bg= 4 ug/m3","afstand":2440.6,"vd":1.401},{"serie":"z0= 100 cm bg= 4 ug/m3","afstand":2981,"vd":1.387},{"serie":"z0= 100 cm bg= 4 ug/m3","afstand":3641,"vd":1.368},{"serie":"z0= 100 cm bg= 4 ug/m3","afstand":4447.1,"vd":1.35},{"serie":"z0= 100 cm bg= 4 ug/m3","afstand":5431.7,"vd":1.333},
{"serie":"z0= 100 cm bg= 6 ug/m3","afstand":9,"vd":1.245},{"serie":"z0= 100 cm bg= 6 ug/m3","afstand":11,"vd":1.232},{"serie":"z0= 100 cm bg= 6 ug/m3","afstand":13.5,"vd":1.22},{"serie":"z0= 100 cm bg= 6 ug/m3","afstand":16.4,"vd":1.21},{"serie":"z0= 100 cm bg= 6 ug/m3","afstand":20.1,"vd":1.202},{"serie":"z0= 100 cm bg= 6 ug/m3","afstand":24.5,"vd":1.196},{"serie":"z0= 100 cm bg= 6 ug/m3","afstand":30,"vd":1.19},{"serie":"z0= 100 cm bg= 6 ug/m3","afstand":36.6,"vd":1.186},{"serie":"z0= 100 cm bg= 6 ug/m3","afstand":44.7,"vd":1.183},{"serie":"z0= 100 cm bg= 6 ug/m3","afstand":54.6,"vd":1.18},{"serie":"z0= 100 cm bg= 6 ug/m3","afstand":66.7,"vd":1.178},{"serie":"z0= 100 cm bg= 6 ug/m3","afstand":81.5,"vd":1.176},{"serie":"z0= 100 cm bg= 6 ug/m3","afstand":99.5,"vd":1.175},{"serie":"z0= 100 cm bg= 6 ug/m3","afstand":121.5,"vd":1.175},{"serie":"z0= 100 cm bg= 6 ug/m3","afstand":148.4,"vd":1.176},{"serie":"z0= 100 cm bg= 6 ug/m3","afstand":181.3,"vd":1.177},{"serie":"z0= 100 cm bg= 6 ug/m3","afstand":221.4,"vd":1.181},{"serie":"z0= 100 cm bg= 6 ug/m3","afstand":270.4,"vd":1.186},{"serie":"z0= 100 cm bg= 6 ug/m3","afstand":330.3,"vd":1.189},{"serie":"z0= 100 cm bg= 6 ug/m3","afstand":403.4,"vd":1.194},{"serie":"z0= 100 cm bg= 6 ug/m3","afstand":492.7,"vd":1.198},{"serie":"z0= 100 cm bg= 6 ug/m3","afstand":601.8,"vd":1.201},{"serie":"z0= 100 cm bg= 6 ug/m3","afstand":735.1,"vd":1.205},{"serie":"z0= 100 cm bg= 6 ug/m3","afstand":897.8,"vd":1.207},{"serie":"z0= 100 cm bg= 6 ug/m3","afstand":1096.6,"vd":1.204},{"serie":"z0= 100 cm bg= 6 ug/m3","afstand":1339.4,"vd":1.2},{"serie":"z0= 100 cm bg= 6 ug/m3","afstand":1636,"vd":1.192},{"serie":"z0= 100 cm bg= 6 ug/m3","afstand":1998.2,"vd":1.183},{"serie":"z0= 100 cm bg= 6 ug/m3","afstand":2440.6,"vd":1.174},{"serie":"z0= 100 cm bg= 6 ug/m3","afstand":2981,"vd":1.166},{"serie":"z0= 100 cm bg= 6 ug/m3","afstand":3641,"vd":1.151},{"serie":"z0= 100 cm bg= 6 ug/m3","afstand":4447.1,"vd":1.137},{"serie":"z0= 100 cm bg= 6 ug/m3","afstand":5431.7,"vd":1.122},
{"serie":"z0= 100 cm bg= 10 ug/m3","afstand":9,"vd":1.018},{"serie":"z0= 100 cm bg= 10 ug/m3","afstand":11,"vd":1.005},{"serie":"z0= 100 cm bg= 10 ug/m3","afstand":13.5,"vd":0.995},{"serie":"z0= 100 cm bg= 10 ug/m3","afstand":16.4,"vd":0.987},{"serie":"z0= 100 cm bg= 10 ug/m3","afstand":20.1,"vd":0.98},{"serie":"z0= 100 cm bg= 10 ug/m3","afstand":24.5,"vd":0.975},{"serie":"z0= 100 cm bg= 10 ug/m3","afstand":30,"vd":0.97},{"serie":"z0= 100 cm bg= 10 ug/m3","afstand":36.6,"vd":0.967},{"serie":"z0= 100 cm bg= 10 ug/m3","afstand":44.7,"vd":0.964},{"serie":"z0= 100 cm bg= 10 ug/m3","afstand":54.6,"vd":0.962},{"serie":"z0= 100 cm bg= 10 ug/m3","afstand":66.7,"vd":0.96},{"serie":"z0= 100 cm bg= 10 ug/m3","afstand":81.5,"vd":0.959},{"serie":"z0= 100 cm bg= 10 ug/m3","afstand":99.5,"vd":0.959},{"serie":"z0= 100 cm bg= 10 ug/m3","afstand":121.5,"vd":0.96},{"serie":"z0= 100 cm bg= 10 ug/m3","afstand":148.4,"vd":0.961},{"serie":"z0= 100 cm bg= 10 ug/m3","afstand":181.3,"vd":0.962},{"serie":"z0= 100 cm bg= 10 ug/m3","afstand":221.4,"vd":0.965},{"serie":"z0= 100 cm bg= 10 ug/m3","afstand":270.4,"vd":0.968},{"serie":"z0= 100 cm bg= 10 ug/m3","afstand":330.3,"vd":0.976},{"serie":"z0= 100 cm bg= 10 ug/m3","afstand":403.4,"vd":0.982},{"serie":"z0= 100 cm bg= 10 ug/m3","afstand":492.7,"vd":0.989},{"serie":"z0= 100 cm bg= 10 ug/m3","afstand":601.8,"vd":0.995},{"serie":"z0= 100 cm bg= 10 ug/m3","afstand":735.1,"vd":1.0},{"serie":"z0= 100 cm bg= 10 ug/m3","afstand":897.8,"vd":1.004},{"serie":"z0= 100 cm bg= 10 ug/m3","afstand":1096.6,"vd":1.004},{"serie":"z0= 100 cm bg= 10 ug/m3","afstand":1339.4,"vd":1.003},{"serie":"z0= 100 cm bg= 10 ug/m3","afstand":1636,"vd":0.998},{"serie":"z0= 100 cm bg= 10 ug/m3","afstand":1998.2,"vd":0.993},{"serie":"z0= 100 cm bg= 10 ug/m3","afstand":2440.6,"vd":0.989},{"serie":"z0= 100 cm bg= 10 ug/m3","afstand":2981,"vd":0.984},{"serie":"z0= 100 cm bg= 10 ug/m3","afstand":3641,"vd":0.972},{"serie":"z0= 100 cm bg= 10 ug/m3","afstand":4447.1,"vd":0.96},{"serie":"z0= 100 cm bg= 10 ug/m3","afstand":5431.7,"vd":0.952}
]},
"data": {"name": "s1"},
"encoding": {
  "x": {"field": "afstand", "type": "quantitative", "scale": {"domain": [0, 5000], "nice": false},
        "axis": {"title": "afstand tot de weg [m]", "values": [0,500,1000,1500,2000,2500,3000,3500,4000,4500,5000], "format": "d", "grid": true, "gridColor": "#D9D9D9", "ticks": false, "domainColor": "#D9D9D9", "labelFont": "Open Sans", "labelFontSize": 13, "labelColor": "#595959", "labelPadding": 14, "titleFont": "Open Sans", "titleFontSize": 13.5, "titleFontWeight": "normal", "titleColor": "#595959", "titlePadding": 10}},
  "y": {"field": "vd", "type": "quantitative", "scale": {"domain": [0, 2.5], "nice": false},
        "axis": {"title": "vdNH3 [cm/s]", "values": [0,0.5,1,1.5,2,2.5], "format": "~g", "grid": true, "gridColor": "#D9D9D9", "ticks": false, "domain": false, "labelFont": "Open Sans", "labelFontSize": 13, "labelColor": "#595959", "labelPadding": 13, "titleFont": "Open Sans", "titleFontSize": 13.5, "titleFontWeight": "normal", "titleColor": "#595959", "titlePadding": 10}},
  "color": {"field": "serie", "type": "nominal",
    "scale": {"domain": ["z0= 003 cm bg= 2 ug/m3","z0= 003 cm bg= 4 ug/m3","z0= 003 cm bg= 6 ug/m3","z0= 003 cm bg= 10 ug/m3","z0= 010 cm bg= 2 ug/m3","z0= 010 cm bg= 4 ug/m3","z0= 010 cm bg= 6 ug/m3","z0= 010 cm bg= 10 ug/m3","z0= 030 cm bg= 2 ug/m3","z0= 030 cm bg= 4 ug/m3","z0= 030 cm bg= 6 ug/m3","z0= 030 cm bg= 10 ug/m3","z0= 100 cm bg= 2 ug/m3","z0= 100 cm bg= 4 ug/m3","z0= 100 cm bg= 6 ug/m3","z0= 100 cm bg= 10 ug/m3"],
              "range": ["#4472C4","#ED7D31","#A5A5A5","#FFC000","#5B9BD5","#70AD47","#264478","#9E480E","#636363","#997300","#255E91","#43682B","#698ED0","#F1975A","#B7B7B7","#FFCD33"]},
    "legend": {"title": null, "orient": "right", "offset": 29, "padding": 0,
      "labelFont": "Open Sans", "labelFontSize": 21, "labelColor": "#595959", "labelLimit": 400, "labelOffset": 4,
      "symbolType": "M-1,0H1M-0.3125,0A0.3125,0.3125 0 1,0 0.3125,0A0.3125,0.3125 0 1,0 -0.3125,0Z",
      "symbolSize": 1024, "symbolStrokeWidth": 2.5, "rowPadding": 3.2,
      "encode": {"symbols": {"update": {"fill": {"scale": "color", "field": "value"}, "stroke": {"scale": "color", "field": "value"}, "opacity": {"value": 1}, "fillOpacity": {"value": 1}, "strokeOpacity": {"value": 1}}}}}}
},
"layer": [
  {"mark": {"type": "line", "strokeWidth": 2.5, "clip": true}},
  {"mark": {"type": "point", "filled": true, "size": 95, "opacity": 1, "clip": true}}
]
}
